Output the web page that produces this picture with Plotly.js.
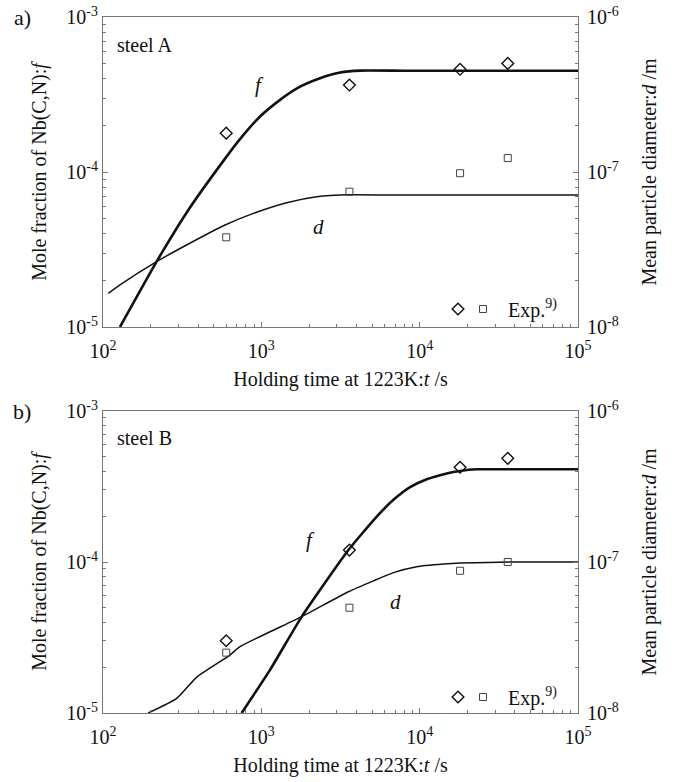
<!DOCTYPE html>
<html>
<head>
<meta charset="utf-8">
<script src="https://cdn.plot.ly/plotly-3.0.1.min.js"></script>
<style>
html,body{margin:0;padding:0;background:#fff;font-family:"Liberation Serif",serif;}
#chart{width:675px;height:782px;}
</style>
</head>
<body>
<div id="chart"></div>
<script>
// ---- Data ----
// steel A : calculated curves
const tA_f = [128, 218, 346, 590, 733, 982, 1313, 1755, 2348, 3140, 4207, 8000, 20000, 100000];
const fA   = [1.0e-5, 2.64e-5, 5.69e-5, 1.22e-4, 1.63e-4, 2.28e-4, 2.92e-4, 3.55e-4, 4.03e-4, 4.38e-4, 4.51e-4, 4.5e-4, 4.5e-4, 4.5e-4];
const tA_d = [108, 128, 218, 337, 590, 891, 1446, 2237, 3630, 8000, 20000, 100000];
const dA   = [1.65e-8, 1.87e-8, 2.64e-8, 3.38e-8, 4.55e-8, 5.41e-8, 6.34e-8, 6.93e-8, 7.14e-8, 7.1e-8, 7.1e-8, 7.1e-8];
// steel B : calculated curves
const tB_f = [751, 1135, 1800, 3548, 5357, 6830, 8700, 11090, 14830, 18000, 22950, 40000, 100000];
const fB   = [1.0e-5, 1.93e-5, 4.35e-5, 1.20e-4, 2.0e-4, 2.58e-4, 3.13e-4, 3.53e-4, 3.86e-4, 4.01e-4, 4.11e-4, 4.11e-4, 4.11e-4];
const tB_d = [193, 292, 391, 634, 733, 1800, 3548, 5100, 6830, 9570, 14130, 18000, 40000, 100000];
const dB   = [1.0e-8, 1.25e-8, 1.73e-8, 2.42e-8, 2.75e-8, 4.35e-8, 6.35e-8, 7.5e-8, 8.5e-8, 9.31e-8, 9.7e-8, 9.85e-8, 1.0e-7, 1.0e-7];
// experimental points (Exp. 9))
const tExp  = [600, 3600, 18000, 36000];
const fExpA = [1.78e-4, 3.64e-4, 4.60e-4, 5.02e-4];
const dExpA = [3.79e-8, 7.46e-8, 9.82e-8, 1.23e-7];
const fExpB = [3.01e-5, 1.20e-4, 4.24e-4, 4.86e-4];
const dExpB = [2.51e-8, 4.98e-8, 8.75e-8, 1.0e-7];
// ticks
const xTickVals = [1e2, 1e3, 1e4, 1e5];
const xTickText = ['10<sup>2</sup>', '10<sup>3</sup>', '10<sup>4</sup>', '10<sup>5</sup>'];
const fTickVals = [1e-5, 1e-4, 1e-3];
const fTickText = ['10<sup>-5</sup>', '10<sup>-4</sup>', '10<sup>-3</sup>'];
const dTickVals = [1e-8, 1e-7, 1e-6];
const dTickText = ['10<sup>-8</sup>', '10<sup>-7</sup>', '10<sup>-6</sup>'];

function minorOf(vals) {
  const out = [];
  for (let i = 0; i < vals.length - 1; i++) for (let k = 2; k <= 9; k++) out.push(vals[i] * k);
  return out;
}

const FONT = 'Liberation Serif';
const LC = '#777';

const thick = {color: '#111', width: 2.6, shape: 'spline', smoothing: 0.5};
const thin = {color: '#111', width: 1.5, shape: 'spline', smoothing: 0.5};
const dia = {symbol: 'diamond-open', size: 9, color: '#111', line: {width: 1.4, color: '#111'}};
const sq = {symbol: 'square-open', size: 7, color: '#444', line: {width: 1, color: '#444'}};

const traces = [
  {x: tA_f, y: fA, mode: 'lines', line: thick, xaxis: 'x', yaxis: 'y', showlegend: false, name: 'f (steel A)'},
  {x: tA_d, y: dA, mode: 'lines', line: thin, xaxis: 'x', yaxis: 'y2', showlegend: false, name: 'd (steel A)'},
  {x: tExp, y: fExpA, mode: 'markers', marker: dia, xaxis: 'x', yaxis: 'y', name: ' ', legend: 'legend'},
  {x: tExp, y: dExpA, mode: 'markers', marker: sq, xaxis: 'x', yaxis: 'y2', name: ' Exp.<sup>9)</sup>', legend: 'legend3'},
  {x: tB_f, y: fB, mode: 'lines', line: thick, xaxis: 'x2', yaxis: 'y3', showlegend: false, name: 'f (steel B)'},
  {x: tB_d, y: dB, mode: 'lines', line: thin, xaxis: 'x2', yaxis: 'y4', showlegend: false, name: 'd (steel B)'},
  {x: tExp, y: fExpB, mode: 'markers', marker: dia, xaxis: 'x2', yaxis: 'y3', name: ' ', legend: 'legend2'},
  {x: tExp, y: dExpB, mode: 'markers', marker: sq, xaxis: 'x2', yaxis: 'y4', name: ' Exp.<sup>9)</sup>', legend: 'legend4'}
];

const tfont = {family: FONT, size: 20, color: '#111'};
const kfont = {family: FONT, size: 20, color: '#111'};

function xAx(anchor) {
  return {
    type: 'log', range: [2, 5], anchor: anchor,
    tickmode: 'array', tickvals: xTickVals, ticktext: xTickText,
    ticks: 'inside', ticklen: 5, tickcolor: LC, showline: true, linecolor: LC, linewidth: 1, mirror: true,
    showgrid: false, zeroline: false, tickfont: kfont, ticklabelstandoff: 6,
    minor: {tickmode: 'array', tickvals: minorOf(xTickVals), ticks: 'inside', ticklen: 3, tickcolor: LC, showgrid: false},
    title: {text: 'Holding time at 1223K:<i>t</i> /s', font: tfont, standoff: 10}
  };
}
function yAx(range, vals, text, domain, anchor, titleText, side, overlay, standoff, lblOff) {
  const a = {
    type: 'log', range: range, anchor: anchor, side: side,
    tickmode: 'array', tickvals: vals, ticktext: text,
    ticks: 'inside', ticklen: 5, tickcolor: LC, showline: true, linecolor: LC, linewidth: 1,
    showgrid: false, zeroline: false, tickfont: kfont, ticklabelstandoff: lblOff,
    minor: {tickmode: 'array', tickvals: minorOf(vals), ticks: 'inside', ticklen: 3, tickcolor: LC, showgrid: false},
    title: {text: titleText, font: tfont, standoff: standoff}
  };
  if (overlay) a.overlaying = overlay; else a.domain = domain;
  return a;
}

const domA = [386 / 696, 1];
const domB = [0, 302 / 696];
const fTitle = 'Mole fraction of Nb(C,N):<i>f</i>';
const dTitle = 'Mean particle diameter:<i>d</i> /m';

const ann = [];
function addText(text, xr, yr, x, y, size, xa, ya) {
  ann.push({text: text, xref: xr, yref: yr, x: x, y: y, showarrow: false, xanchor: xa || 'center', yanchor: ya || 'middle',
            font: {family: FONT, size: size || 20, color: '#111'}});
}
addText('steel A', 'x domain', 'y domain', 0.025, 0.91, 20, 'left');
addText('<i>f</i>', 'x domain', 'y domain', 0.33, 0.78, 21);
addText('<i>d</i>', 'x domain', 'y domain', 0.453, 0.323, 21);
addText('steel B', 'x2 domain', 'y3 domain', 0.025, 0.91, 20, 'left');
addText('<i>f</i>', 'x2 domain', 'y3 domain', 0.436, 0.573, 21);
addText('<i>d</i>', 'x2 domain', 'y3 domain', 0.615, 0.368, 21);
addText('a)', 'paper', 'paper', -0.17, 1.0, 22);
addText('b)', 'paper', 'paper', -0.17, 302 / 696, 22);

const legBase = {orientation: 'h', bgcolor: 'rgba(0,0,0,0)', font: {family: FONT, size: 20, color: '#111'},
                 xanchor: 'left', yanchor: 'middle', itemwidth: 30};
const legY_A = (713 - 309) / 696;
const legY_B = (713 - 697) / 696;
const legX_dia = (438 - 103) / 475;
const legX_sq = (463 - 103) / 475;

const layout = {
  width: 675, height: 782,
  margin: {l: 103, r: 97, t: 17, b: 69},
  paper_bgcolor: '#fff', plot_bgcolor: '#fff',
  font: {family: FONT, size: 20, color: '#111'},
  xaxis: xAx('y'),
  yaxis: yAx([-5, -3], fTickVals, fTickText, domA, 'x', fTitle, 'left', null, 14, 0),
  yaxis2: yAx([-8, -6], dTickVals, dTickText, domA, 'x', dTitle, 'right', 'y', 24, 4),
  xaxis2: xAx('y3'),
  yaxis3: yAx([-5, -3], fTickVals, fTickText, domB, 'x2', fTitle, 'left', null, 14, 0),
  yaxis4: yAx([-8, -6], dTickVals, dTickText, domB, 'x2', dTitle, 'right', 'y3', 24, 4),
  legend: Object.assign({}, legBase, {x: legX_dia, y: legY_A}),
  legend3: Object.assign({}, legBase, {x: legX_sq, y: legY_A}),
  legend2: Object.assign({}, legBase, {x: legX_dia, y: legY_B}),
  legend4: Object.assign({}, legBase, {x: legX_sq, y: legY_B}),
  annotations: ann,
  showlegend: true
};

Plotly.newPlot('chart', traces, layout, {displayModeBar: false, staticPlot: true});
</script>
</body>
</html>
